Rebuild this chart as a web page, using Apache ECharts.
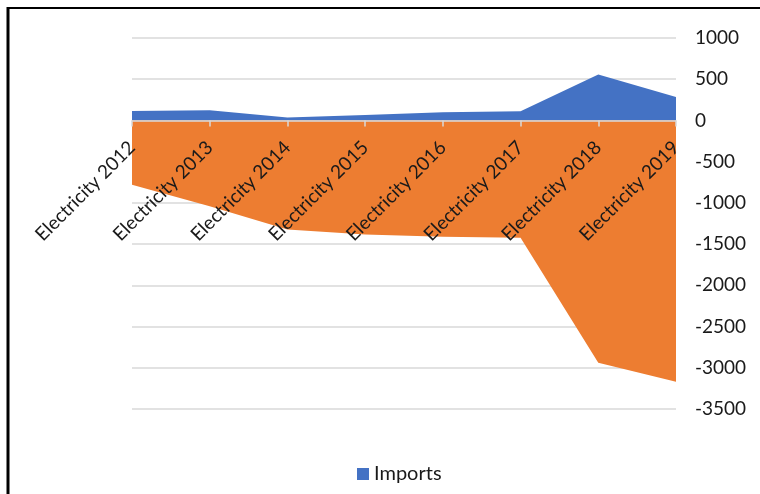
<!DOCTYPE html>
<html>
<head>
<meta charset="utf-8">
<script src="https://cdn.jsdelivr.net/npm/echarts@6/dist/echarts.min.js"></script>
<style>
  html, body { margin: 0; padding: 0; background: #fff; }
  #chart { width: 760px; height: 494px; }
</style>
</head>
<body>
<div id="chart"></div>
<script>
// Electricity trade by year
const categories = ['Electricity 2012', 'Electricity 2013', 'Electricity 2014', 'Electricity 2015',
                    'Electricity 2016', 'Electricity 2017', 'Electricity 2018', 'Electricity 2019'];
const imports = [114, 123, 35, 66, 99, 111, 557, 283];
const exports = [-780, -1040, -1322, -1382, -1410, -1422, -2940, -3169];
const yTicks = { min: -3500, max: 1000, interval: 500 };

const FONT = 'Lato';
const W = 760, H = 494;
const GRID = { left: 132, right: 84, top: 38, bottom: 85 };
// Category axis sits on the zero line: shift it up from the grid's bottom edge
const plotH = H - GRID.top - GRID.bottom;
const zeroOffset = -plotH * (0 - yTicks.min) / (yTicks.max - yTicks.min);

const chart = echarts.init(document.getElementById('chart'), null, { renderer: 'canvas' });

chart.setOption({
  animation: false,
  backgroundColor: '#ffffff',
  textStyle: { fontFamily: FONT },
  grid: Object.assign({ containLabel: false, outerBoundsMode: 'none' }, GRID),
  legend: {
    data: ['Imports'],
    top: 459,
    left: 352,
    icon: 'rect',
    itemWidth: 12,
    itemHeight: 12,
    itemGap: 6,
    textStyle: { fontFamily: FONT, fontSize: 20, color: '#1a1a1a' }
  },
  xAxis: {
    type: 'category',
    data: categories,
    boundaryGap: false,
    position: 'bottom',
    offset: zeroOffset,
    z: 5,
    axisLine: { onZero: false, lineStyle: { color: '#d9d9d9', width: 1.5 } },
    axisTick: { show: true, length: 6, lineStyle: { color: '#d9d9d9', width: 1.5 } },
    axisLabel: {
      rotate: 45,
      margin: 24,
      fontFamily: FONT,
      fontSize: 19,
      color: '#1a1a1a',
      interval: 0,
      hideOverlap: false
    },
    splitLine: { show: false }
  },
  yAxis: {
    type: 'value',
    position: 'right',
    min: yTicks.min,
    max: yTicks.max,
    interval: yTicks.interval,
    axisLine: { show: false },
    axisTick: { show: false },
    axisLabel: {
      margin: 19,
      fontFamily: FONT,
      fontSize: 19,
      color: '#1a1a1a',
      formatter: v => String(v)
    },
    splitLine: { lineStyle: { color: '#d9d9d9', width: 1.5 } }
  },
  series: [
    {
      name: 'Imports',
      type: 'line',
      data: imports,
      symbol: 'none',
      lineStyle: { width: 0 },
      itemStyle: { color: '#4472c4' },
      areaStyle: { color: '#4472c4', opacity: 1, origin: 0 }
    },
    {
      name: 'Exports',
      type: 'line',
      data: exports,
      symbol: 'none',
      lineStyle: { width: 0 },
      itemStyle: { color: '#ed7d31' },
      areaStyle: { color: '#ed7d31', opacity: 1, origin: 0 }
    }
  ],
  graphic: [
    { type: 'line', shape: { x1: 8, y1: 8, x2: W, y2: 8 }, style: { stroke: '#000', lineWidth: 2 }, z: 10 },
    { type: 'line', shape: { x1: 8, y1: 7, x2: 8, y2: H }, style: { stroke: '#000', lineWidth: 3 }, z: 10 }
  ]
});
</script>
</body>
</html>
